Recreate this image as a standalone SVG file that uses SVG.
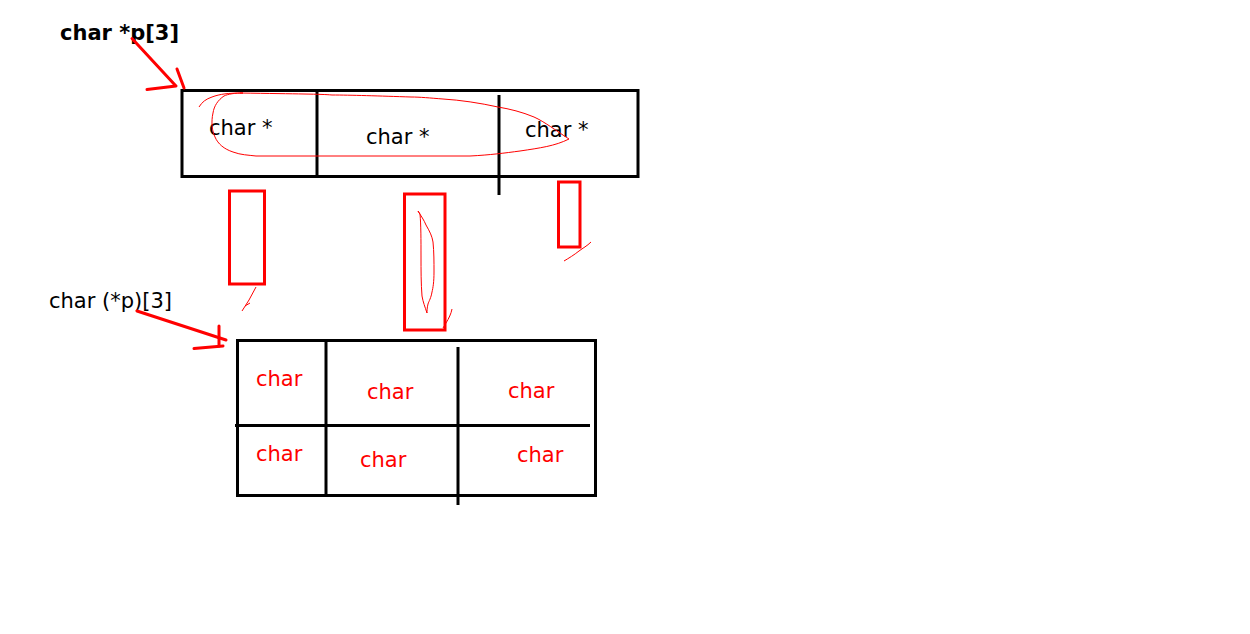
<svg xmlns="http://www.w3.org/2000/svg" width="1250" height="634" viewBox="0 0 1250 634">
<style>
.t{font-family:"DejaVu Sans","Liberation Sans",sans-serif;font-size:21px;fill:#000}
.b{font-weight:bold}
.r{fill:#ff0000}
.box{fill:none;stroke:#000;stroke-width:3}
.ln{stroke:#000;stroke-width:3;fill:none}
.rb{fill:none;stroke:#ff0000;stroke-width:3}
.rl{stroke:#ff0000;stroke-width:3;fill:none;stroke-linecap:round}
.sq{stroke:#ff0000;stroke-width:1;fill:none}
</style>
<rect width="1250" height="634" fill="#fff"/>
<g id="label-ptr-array"><text class="t b" x="60" y="40">char *p[3]</text></g>
<g id="label-array-ptr"><text class="t" x="49" y="308">char (*p)[3]</text></g>
<g id="top-array">
<rect class="box" x="182" y="90.5" width="456" height="86"/>
<line class="ln" x1="317" y1="90" x2="317" y2="176"/>
<line class="ln" x1="499" y1="95" x2="499" y2="195"/>
<text class="t" x="209" y="135">char *</text>
<text class="t" x="366" y="144">char *</text>
<text class="t" x="525" y="137">char *</text>
</g>
<g id="red-blocks">
<rect class="rb" x="229.5" y="191" width="35" height="93"/>
<rect class="rb" x="404.5" y="194" width="40.5" height="136"/>
<rect class="rb" x="558.5" y="182" width="21.5" height="65"/>
</g>
<g id="bottom-array">
<rect class="box" x="237.5" y="340.5" width="358" height="155"/>
<line class="ln" x1="326" y1="342" x2="326" y2="494"/>
<line class="ln" x1="458" y1="347" x2="458" y2="505"/>
<line class="ln" x1="235" y1="425.5" x2="590" y2="425.5"/>
<text class="t r" x="256" y="386">char</text>
<text class="t r" x="367" y="399">char</text>
<text class="t r" x="508" y="398">char</text>
<text class="t r" x="256" y="461">char</text>
<text class="t r" x="360" y="467">char</text>
<text class="t r" x="517" y="462">char</text>
</g>
<g id="connectors">
<line class="rl" x1="132" y1="38.5" x2="175" y2="85"/>
<line class="rl" x1="147" y1="89.5" x2="176" y2="86"/>
<line class="rl" x1="177" y1="69" x2="184" y2="88"/>
<line class="rl" x1="137" y1="311" x2="226" y2="340"/>
<line class="rl" x1="219" y1="326" x2="219" y2="346"/>
<line class="rl" x1="194" y1="348.5" x2="223" y2="346"/>
<path class="sq" d="M199,107 C202,102 206,99 212,97 C220,94 228,93 243,93 C235,93 228,94 224,96 C218,100 214,106 213,113 C211,122 212,131 215,137 C218,144 224,149 233,152 C241,155 248,155 256,156 L470,156 C490,155 505,153 520,151 C540,148 555,146 569,139 C555,130 545,122 534,117 C522,112 510,109 498,107 C480,103 460,100 443,99 C430,98 420,97 411,97 C380,96 350,95 332,95 C320,94 300,94 240,93"/>
<path class="sq" d="M256,287 L249,300 L242,311 M245,306 L250,303"/>
<path class="sq" d="M418,211 C421,216 424,220 426,225 C430,232 432,236 433,242 C434,252 434,262 434,272 C434,282 433,288 432,292 C431,298 429,301 428,304 C427,308 427,311 427,313 C425,307 423,302 422,296 C421,284 421,270 421,256 C421,240 421,225 420,214 L418,211"/>
<path class="sq" d="M452,309 C451,314 449,318 446,323 L443,328"/>
<path class="sq" d="M591,242 C587,246 583,248 579,251 C574,255 569,258 564,261"/>
</g>
</svg>
